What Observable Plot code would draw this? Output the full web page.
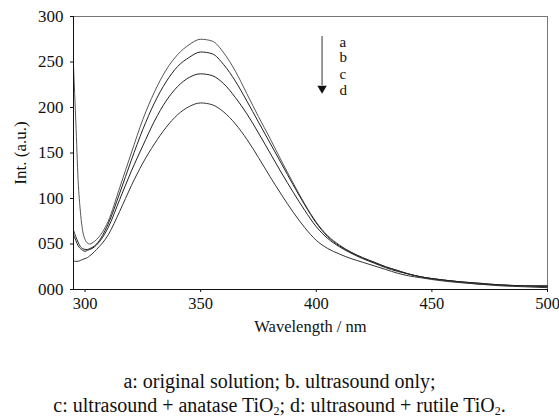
<!DOCTYPE html>
<html>
<head>
<meta charset="utf-8">
<script src="https://cdn.jsdelivr.net/npm/d3@7"></script>
<script src="https://cdn.jsdelivr.net/npm/@observablehq/plot@0.6"></script>
<style>
  html, body { margin: 0; padding: 0; background: #fff; }
  #chart svg { display: block; }
  .caption { font-family: "Liberation Serif", "Times New Roman", serif; font-size: 20px; line-height: 24px; text-align: center; color: #111; width: 559px; margin-top: 24px; }
  #chart svg text { font-family: "Liberation Serif", "Times New Roman", serif; }
</style>
</head>
<body>
<div id="chart"></div>
<div class="caption">a: original solution; b. ultrasound only;<br>c: ultrasound + anatase TiO<sub style="font-size:12px;vertical-align:-3px;line-height:0">2</sub>; d: ultrasound + rutile TiO<sub style="font-size:12px;vertical-align:-3px;line-height:0">2</sub>.</div>
<script>
const wavelengths = [295,296,297,298,299,300,301,302,303,305,310,315,320,325,330,335,340,345,350,355,360,365,370,375,380,385,390,395,400,405,410,415,420,425,430,435,440,445,450,460,470,480,490,500];
const seriesA = [245,185,120,85,64,55,51,50,51,55,75,112,150,187,217,241,258,269,275,273,260,240,215,190,166,141,117,94,74,59,49,41,35,30,25,21,17,14,12,9,7,5,4,4];
const seriesB = [65,58,52,47,45,44,44,45,46,50,72,106,142,176,205,228,245,255,261,259,247,229,207,184,161,138,115,93,73,58,48,41,35,30,25,21,17,14,12,9,7,5,4,4];
const seriesC = [60,54,48,45,43,42,43,44,45,49,68,99,130,158,185,207,223,233,237,235,226,211,193,172,150,128,107,87,69,56,47,40,34,29,24,20,17,14,12,9,6,5,4,3];
const seriesD = [31,31,31,32,33,34,35,37,39,44,60,86,114,139,160,178,192,201,205,203,195,182,165,145,124,104,85,68,54,45,39,34,30,26,22,18,15,13,11,8,6,4,3,2];
const seriesNames = ["a","b","c","d"];
const xTicks = [300,350,400,450,500];
const yTicks = [0,50,100,150,200,250,300];
const arrowX = 402.5;
const arrowTop = 278;
const arrowHead = 221;
const letterX = 410;
const letterY = [272,255,237,219];

const allSeries = [seriesA, seriesB, seriesC, seriesD];
const data = [];
allSeries.forEach((vals, i) => vals.forEach((v, j) => data.push({series: seriesNames[i], wl: wavelengths[j], v})));
const letters = seriesNames.map((s, i) => ({s, y: letterY[i]}));

const chart = Plot.plot({
  width: 559,
  height: 345,
  marginLeft: 73,
  marginRight: 12,
  marginTop: 16,
  marginBottom: 56,
  style: {fontFamily: "'Liberation Serif', 'Times New Roman', serif", fontSize: "17px", color: "#111", background: "#fff"},
  x: {domain: [295, 500]},
  y: {domain: [0, 300]},
  marks: [
    Plot.frame({stroke: "#777", strokeWidth: 1}),
    Plot.line(data, {x: "wl", y: "v", z: "series", stroke: "series", strokeWidth: 1, curve: "monotone-x"}),
    Plot.ruleY([0], {stroke: "#111"}),
    Plot.ruleX([295], {stroke: "#111"}),
    Plot.axisX({ticks: xTicks, tickSize: 3, tickPadding: 5, label: "Wavelength / nm", labelAnchor: "center", labelArrow: "none", labelOffset: 42, fontSize: 16.5}),
    Plot.axisY({ticks: yTicks, tickSize: 3, tickPadding: 7, tickFormat: d3.format("03d"), label: "Int. (a.u.)", labelAnchor: "center", labelArrow: "none", labelOffset: 60, fontSize: 17}),
    Plot.ruleX([arrowX], {y1: arrowTop, y2: arrowHead + 3, stroke: "#333", strokeWidth: 1}),
    Plot.dot([arrowX], {x: d => d, y: arrowHead, symbol: "triangle", r: 3.5, fill: "#111", stroke: "none", rotate: 180}),
    Plot.text(letters, {x: letterX, y: "y", text: "s", textAnchor: "start", fontSize: 15, fill: "#111"})
  ],
  color: {domain: seriesNames, range: ["#555", "#222", "#222", "#333"]}
});
document.getElementById("chart").appendChild(chart);
</script>
</body>
</html>
